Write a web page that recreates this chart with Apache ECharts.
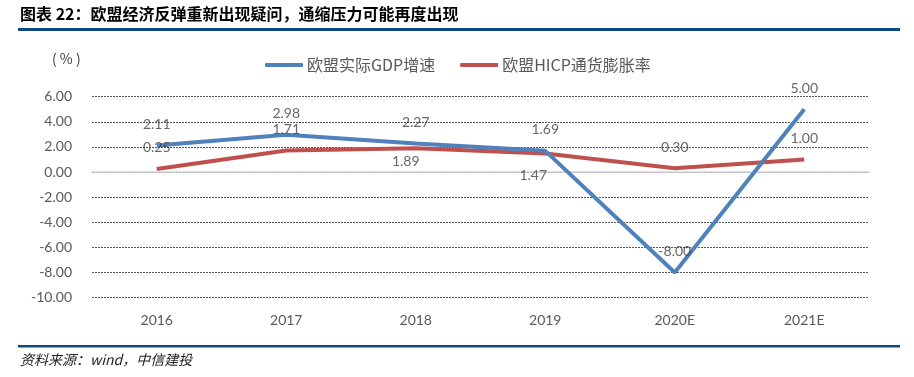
<!DOCTYPE html>
<html>
<head>
<meta charset="utf-8">
<script src="https://cdn.jsdelivr.net/npm/echarts@6/dist/echarts.min.js"></script>
<style>
  html, body { margin: 0; padding: 0; background: #fff; }
  #chart { width: 914px; height: 377px; }
</style>
</head>
<body>
<div id="chart"></div>
<script>
// 数据
var years = ['2016', '2017', '2018', '2019', '2020E', '2021E'];
var gdp = [2.11, 2.98, 2.27, 1.69, -8.00, 5.00];
var hicp = [0.25, 1.71, 1.89, 1.47, 0.30, 1.00];
var yTicks = { min: -10, max: 6, interval: 2 };

var numFont = 'Lato, "Noto Sans CJK SC", sans-serif';
var cnFont = '"Noto Sans CJK SC", sans-serif';

var chart = echarts.init(document.getElementById('chart'), null, { renderer: 'canvas' });

// 标签默认在上方，个别点放在下方（与原图一致）
function labelled(values, below) {
    return values.map(function (v, i) {
        var item = { value: v };
        if (below[i]) {
            item.label = { position: 'bottom', distance: below[i][0], offset: [below[i][1], 0] };
        }
        return item;
    });
}

var labelStyle = {
    show: true, position: 'top', distance: 14,
    fontSize: 14, color: '#404040', fontFamily: numFont,
    formatter: function (p) { return p.value.toFixed(2); }
};

var option = {
    backgroundColor: '#fff',
    animation: false,
    graphic: [
        {
            type: 'text', left: 20, top: 6,
            style: { text: '图表 22：欧盟经济反弹重新出现疑问，通缩压力可能再度出现', font: 'bold 16px "Noto Sans CJK SC", sans-serif', fill: '#000' }
        },
        { type: 'rect', shape: { x: 18, y: 28, width: 882, height: 3 }, style: { fill: '#0e4a80' } },
        { type: 'rect', shape: { x: 18, y: 345, width: 882, height: 2.5 }, style: { fill: '#0e4a80' } },
        {
            type: 'text', left: 20, top: 353,
            style: { text: '资料来源：wind，中信建投', font: 'italic 14px "Noto Sans CJK SC", serif', fill: '#222' }
        },
        {
            type: 'text', left: 52, top: 52,
            style: { text: '( % )', font: '14px "Noto Sans CJK SC", sans-serif', fill: '#404040' }
        }
    ],
    legend: {
        left: 260, top: 52,
        itemWidth: 38, itemHeight: 4, itemGap: 25,
        icon: 'roundRect',
        data: ['欧盟实际GDP增速', '欧盟HICP通货膨胀率'],
        textStyle: { fontSize: 16, color: '#595959', fontFamily: cnFont, padding: [0, 0, 0, -1] }
    },
    grid: { left: 92, right: 45, top: 96.7, bottom: 79.3, containLabel: false },
    xAxis: [
        {
            type: 'category', data: years,
            axisLine: { onZero: true, lineStyle: { color: '#d9d9d9', width: 1.5 } },
            axisTick: { show: false },
            axisLabel: { show: false }
        },
        {
            type: 'category', data: years, position: 'bottom',
            axisLine: { show: false, onZero: false },
            axisTick: { show: false },
            axisLabel: { margin: 16, fontSize: 14, color: '#595959', fontFamily: numFont }
        }
    ],
    yAxis: {
        type: 'value',
        min: yTicks.min, max: yTicks.max, interval: yTicks.interval,
        axisLine: { show: false },
        axisTick: { show: false },
        axisLabel: {
            margin: 20, fontSize: 14, color: '#595959', fontFamily: numFont,
            formatter: function (v) { return v.toFixed(2); }
        },
        splitLine: { lineStyle: { color: '#555', type: [2, 1], width: 1 } }
    },
    series: [
        {
            name: '欧盟HICP通货膨胀率', type: 'line', xAxisIndex: 0, z: 2,
            data: hicp,
            symbol: 'none',
            lineStyle: { color: '#c0504d', width: 4 },
            itemStyle: { color: '#c0504d' }
        },
        {
            name: '欧盟实际GDP增速', type: 'line', xAxisIndex: 0, z: 3,
            data: gdp,
            symbol: 'none',
            lineStyle: { color: '#4f81bd', width: 4 },
            itemStyle: { color: '#4f81bd' }
        },
        // 数据标签放在线条之上
        {
            name: 'hicpLabels', type: 'scatter', xAxisIndex: 0, z: 10,
            data: labelled(hicp, { 2: [6, -10], 3: [15, -12] }),
            symbolSize: 0.1, itemStyle: { color: 'transparent' },
            label: labelStyle, silent: true
        },
        {
            name: 'gdpLabels', type: 'scatter', xAxisIndex: 0, z: 10,
            data: gdp,
            symbolSize: 0.1, itemStyle: { color: 'transparent' },
            label: labelStyle, silent: true
        }
    ]
};

chart.setOption(option);
</script>
</body>
</html>
